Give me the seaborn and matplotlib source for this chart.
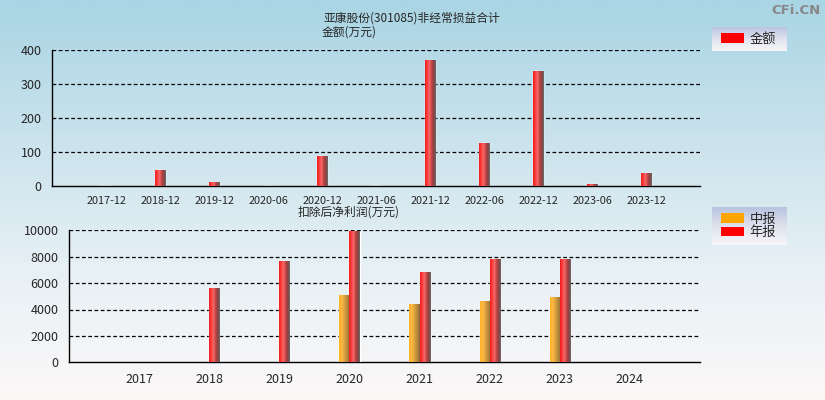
import numpy as np
import pandas as pd
import matplotlib
matplotlib.use("Agg")
import matplotlib.pyplot as plt
from matplotlib.colors import LinearSegmentedColormap
from matplotlib.patches import Patch
import seaborn as sns

# data
periods = ['2017-12', '2018-12', '2019-12', '2020-06', '2020-12', '2021-06',
           '2021-12', '2022-06', '2022-12', '2023-06', '2023-12']
amounts = [0, 47, 9, 0, 88, 0, 368, 126, 338, 5, 38]

years = ['2017', '2018', '2019', '2020', '2021', '2022', '2023', '2024']
half_years = ['2020', '2021', '2022', '2023']
half_profit = [5030, 4340, 4570, 4870]
annual_years = ['2018', '2019', '2020', '2021', '2022', '2023']
annual_profit = [5550, 7600, 9850, 6770, 7750, 7750]

sns.set_style("white")
plt.rcParams['font.family'] = ['Noto Sans CJK SC', 'DejaVu Sans']
plt.rcParams['axes.unicode_minus'] = False

fig = plt.figure(figsize=(8.25, 4.0), dpi=100)

# background gradient
bg = fig.add_axes([0, 0, 1, 1], zorder=-10)
bg_cmap = LinearSegmentedColormap.from_list('bg', ['#a9d5e4', '#c9e2ec', '#e6f0f5', '#fcf8f8'])
bg.imshow(np.linspace(0, 1, 256).reshape(-1, 1), cmap=bg_cmap, aspect='auto', extent=[0, 1, 0, 1])
bg.set_axis_off()

red_cmap = LinearSegmentedColormap.from_list('red', ['#ee1c1c', '#ff3a3a', '#f46c6c', '#c84444', '#8a4040', '#6e6868'])
org_cmap = LinearSegmentedColormap.from_list('org', ['#ffae28', '#ffba40', '#dca040', '#b88a38', '#8a6c3c'])
grad = np.linspace(0, 1, 64).reshape(1, -1)


def shade(ax):
    # paint each drawn bar with a cylinder-like gradient
    for p in ax.patches:
        h = p.get_height()
        if not np.isfinite(h) or h <= 0:
            continue
        cm = org_cmap if p.get_facecolor()[1] > 0.3 else red_cmap
        x0 = p.get_x()
        ax.imshow(grad, cmap=cm, aspect='auto', extent=[x0, x0 + p.get_width(), 0, h],
                  zorder=p.get_zorder() + 0.1, interpolation='bilinear')


def style(ax, yticks):
    for s in ['top', 'right']:
        ax.spines[s].set_visible(False)
    for s in ['left', 'bottom']:
        ax.spines[s].set_color('black')
        ax.spines[s].set_linewidth(1.0)
    ax.set_yticks(yticks)
    for y in yticks[1:]:
        ax.axhline(y, color='black', ls=(0, (3, 2)), lw=0.9, zorder=1)
    ax.tick_params(axis='both', direction='out', length=4, width=1, color='black')
    ax.tick_params(axis='y', labelsize=9)
    ax.set_xlabel('')
    ax.set_ylabel('')
    ax.patch.set_alpha(0)


def legend_box(rect, handles):
    lax = fig.add_axes(rect)
    lcm = LinearSegmentedColormap.from_list('lg', ['#b8c3df', '#dfe2ee', '#f6f5f8'])
    lax.imshow(np.linspace(0, 1, 64).reshape(-1, 1), cmap=lcm, aspect='auto', extent=[0, 1, 0, 1])
    lax.set_axis_off()
    lax.legend(handles=handles, loc='center left', bbox_to_anchor=(9 / 75, 0.5), frameon=False,
               fontsize=9.5, borderpad=0, borderaxespad=0, handlelength=1.75, handleheight=0.7,
               handletextpad=0.4, labelspacing=0.05)


# top chart
ax1 = fig.add_axes([52 / 825, 1 - 186 / 400, 648 / 825, 136 / 400])
df1 = pd.DataFrame({'period': periods, 'amount': amounts})
sns.barplot(data=df1, x='period', y='amount', order=periods, color='red',
            width=0.2, saturation=1, ax=ax1, zorder=3)
shade(ax1)
ax1.set_xlim(-1, len(periods))
ax1.set_ylim(0, 400)
style(ax1, [0, 100, 200, 300, 400])
ax1.set_xticks(range(-1, len(periods) + 1))
ax1.set_xticklabels([''] + periods + [''], fontsize=7.8)

# bottom chart
ax2 = fig.add_axes([69 / 825, 1 - 362.3 / 400, 631 / 825, 132 / 400])
df2 = pd.concat([
    pd.DataFrame({'year': half_years, 'kind': '中报', 'profit': half_profit}),
    pd.DataFrame({'year': annual_years, 'kind': '年报', 'profit': annual_profit}),
])
sns.barplot(data=df2, x='year', y='profit', hue='kind', order=years,
            hue_order=['中报', '年报'], palette={'中报': 'orange', '年报': 'red'},
            width=0.29, saturation=1, ax=ax2, zorder=3, legend=False)
shade(ax2)
ax2.set_xlim(-1, len(years))
ax2.set_ylim(0, 10000)
style(ax2, [0, 2000, 4000, 6000, 8000, 10000])
ax2.set_xticks(range(-1, len(years) + 1))
ax2.set_xticklabels([''] + years + [''], fontsize=9)

# titles
fig.text(323 / 825, 1 - 18 / 400, '亚康股份(301085)非经常损益合计', fontsize=8.5, va='center', ha='left')
fig.text(322 / 825, 1 - 32 / 400, '金额(万元)', fontsize=8.5, va='center', ha='left')
fig.text(298 / 825, 1 - 212 / 400, '扣除后净利润(万元)', fontsize=8.5, va='center', ha='left')
fig.text(821 / 825, 1 - 10 / 400, 'CFi.CN', fontsize=9.5, fontweight='bold', color='#888888',
         va='center', ha='right', family='DejaVu Sans')

# legends
legend_box([712 / 825, 1 - 51 / 400, 75 / 825, 24 / 400],
           [Patch(facecolor='red', edgecolor='none', label='金额')])
legend_box([712 / 825, 1 - 245 / 400, 75 / 825, 38 / 400],
           [Patch(facecolor='orange', edgecolor='none', label='中报'),
            Patch(facecolor='red', edgecolor='none', label='年报')])

fig.savefig('out.png', dpi=100)
